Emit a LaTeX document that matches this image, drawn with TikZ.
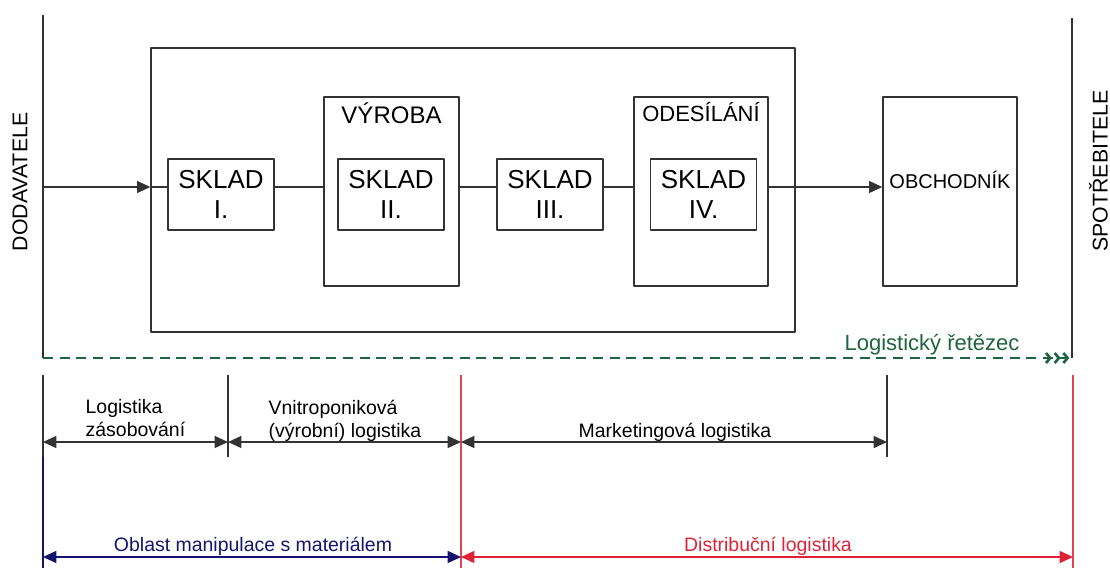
\documentclass[tikz,border=0pt]{standalone}
\usepackage{fontspec}
\setmainfont{Liberation Sans}
\usetikzlibrary{arrows.meta}
\definecolor{navyline}{RGB}{20,20,110}
\definecolor{redline}{RGB}{222,35,55}
\definecolor{chaingreen}{RGB}{30,100,62}
\tikzset{
  box/.style={draw=black!80, line width=1pt, inner sep=0pt},
  skladbox/.style={box, minimum width=79.5pt, minimum height=53.25pt, align=center,
    font=\fontsize{19.5pt}{22.5pt}\selectfont},
  unitbox/.style={box, minimum width=100.5pt, minimum height=141.75pt},
  head/.style={anchor=base, inner sep=0pt},
  side/.style={rotate=90, inner sep=0pt, font=\fontsize{16pt}{19pt}\selectfont},
  sub/.style={inner sep=0pt, font=\fontsize{14.6pt}{17.25pt}\selectfont},
  flowto/.style={-{Triangle[length=10pt,width=9pt]}},
  span/.style={{Triangle[length=10pt,width=9pt]}-{Triangle[length=10pt,width=9pt]}},
  chev/.style={-{Straight Barb[length=3.2pt,width=7.5pt,line width=2pt,sep=1pt]
    Straight Barb[length=3.2pt,width=7.5pt,line width=2pt,sep=1pt]
    Straight Barb[length=3.2pt,width=7.5pt,line width=2pt]}}
}
\begin{document}
\begin{tikzpicture}[x=0.75pt, y=-0.75pt, line width=1pt, line join=round]
  \useasboundingbox (0,0) rectangle (1110,568);
  \coordinate (dodT) at (43,15);
  \coordinate (dodB) at (43,358);
  \coordinate (spoT) at (1072,18);
  \coordinate (spoB) at (1072,358);
  \coordinate (flow) at (0,187);
  \draw[black!80] (dodT) -- (dodB);
  \draw[black!80] (spoT) -- (spoB);
  \node[side] (dod) at (20,182) {DODAVATELE};
  \node[side] (spo) at (1098.5,171) {SPOTŘEBITELE};

  \node[box, minimum width=483pt, minimum height=213pt] (big) at (473,190) {};
  \node[unitbox, minimum width=101.25pt] (vyr) at (391.5,191.5) {};
  \node[unitbox] (ode) at (701,191.5) {};
  \node[unitbox] (obch) at (950,191.5) {};
  \node[head, font=\fontsize{18pt}{20pt}\selectfont] (vyrT) at (391.5,123) {VÝROBA};
  \node[head, font=\fontsize{16.5pt}{19pt}\selectfont] (odeT) at (701,121) {ODESÍLÁNÍ};
  \node[head, font=\fontsize{15pt}{18pt}\selectfont] (obchT) at (950,188) {OBCHODNÍK};
  \node[skladbox] (sk1) at (221,194.5) {SKLAD\\I.};
  \node[skladbox] (sk2) at (391,194.5) {SKLAD\\II.};
  \node[skladbox] (sk3) at (550,194.5) {SKLAD\\III.};
  \node[skladbox] (sk4) at (703.5,194.5) {SKLAD\\IV.};

  \draw[black!80,flowto] (dodT |- flow) -- (big.west |- flow);
  \draw[black!80] (big.west |- flow) -- (sk1.west |- flow);
  \draw[black!80] (sk1.east |- flow) -- (vyr.west |- flow);
  \draw[black!80] (vyr.east |- flow) -- (sk3.west |- flow);
  \draw[black!80] (sk3.east |- flow) -- (ode.west |- flow);
  \draw[black!80,flowto] (ode.east |- flow) -- (obch.west |- flow);

  \draw[chaingreen, dash pattern=on 7.5pt off 5pt, chev] (dodB) -- ([xshift=-2pt]spoB);
  \node[head, chaingreen, font=\fontsize{16.5pt}{19pt}\selectfont] (chain) at (932,350) {Logistický řetězec};

  \foreach \n/\x in {a/43,b/228,c/461,d/887,e/1073} \coordinate (t\n) at (\x,375);
  \coordinate (rowA) at (0,442);
  \coordinate (rowB) at (0,457);
  \coordinate (rowC) at (0,557);
  \coordinate (rowD) at (0,568);
  \foreach \n in {a,b,d} \draw[black!80] (t\n) -- (t\n |- rowB);
  \draw[navyline] (ta |- rowB) -- (ta |- rowD);
  \draw[redline!85] (tc) -- (tc |- rowD);
  \draw[redline!85] (te) -- (te |- rowD);

  \draw[black!80,span] (ta |- rowA) -- (tb |- rowA);
  \draw[black!80,span] (tb |- rowA) -- (tc |- rowA);
  \draw[black!80,span] (tc |- rowA) -- (td |- rowA);
  \draw[navyline,span] (ta |- rowC) -- (tc |- rowC);
  \draw[redline,span] (tc |- rowC) -- (te |- rowC);

  \node[sub, anchor=north west, align=left] (zas) at (85,399) {Logistika\\zásobování};
  \node[sub, anchor=north west, align=left] (vnit) at (268,399) {Vnitroponiková\\(výrobní) logistika};
  \node[sub, anchor=base] (mark) at (675,437) {Marketingová logistika};
  \node[sub, anchor=base, navyline] (obl) at (253,551) {Oblast manipulace s materiálem};
  \node[sub, anchor=base, redline] (dist) at (768,551) {Distribuční logistika};
\end{tikzpicture}
\end{document}
